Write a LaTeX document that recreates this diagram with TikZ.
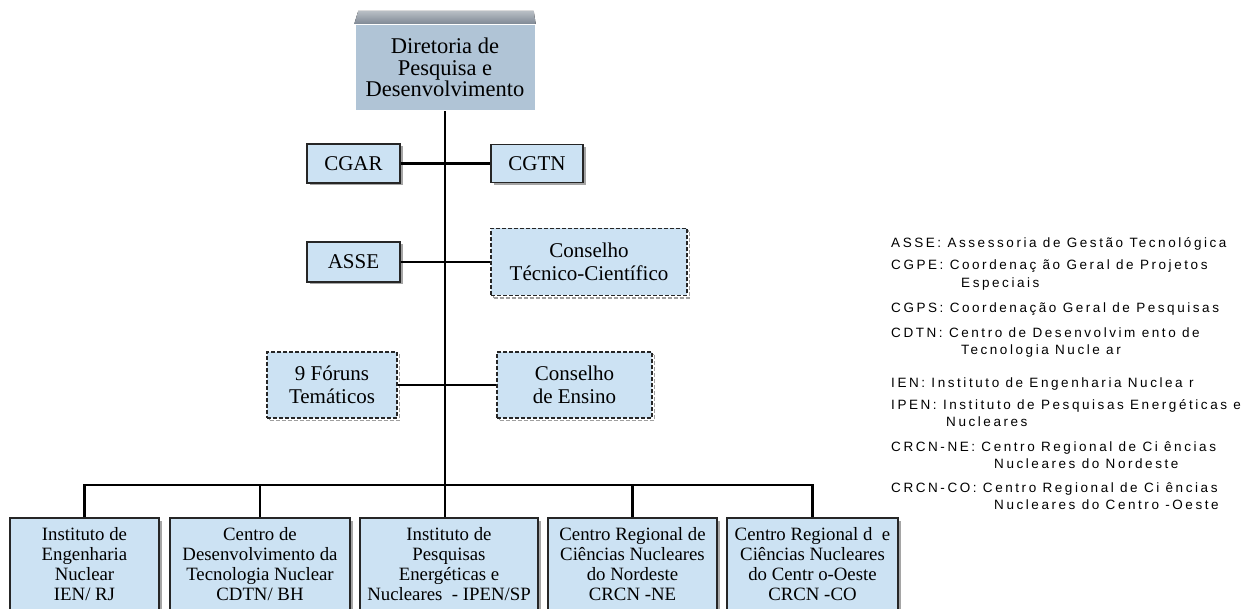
\documentclass[tikz,border=0pt]{standalone}
\usepackage{fontspec}
\setmainfont{Liberation Serif}
\newfontfamily\legendfont[LetterSpace=19]{Liberation Sans}
\usetikzlibrary{shadows, positioning}
\definecolor{boxblue}{RGB}{204,226,243}
\definecolor{dirblue}{RGB}{176,196,214}
\definecolor{bandgrey}{RGB}{128,138,150}

\begin{document}
\begin{tikzpicture}[x=1pt, y=-1pt, line width=2.4pt]
\tikzstyle{box}=[draw=black!85, line width=1.3pt, fill=boxblue, align=center, inner sep=0pt]
\tikzstyle{unit}=[box, drop shadow={shadow xshift=2.5pt, shadow yshift=-2.5pt, fill=black!70}]
\tikzstyle{council}=[box, dash pattern=on 4pt off 2pt, drop shadow={shadow xshift=2.5pt, shadow yshift=-2.5pt, fill=none, draw=black!75, line width=1.6pt}]
\tikzstyle{big}=[font=\fontsize{21}{23}\selectfont]
\tikzstyle{small}=[font=\fontsize{18.8}{20}\selectfont]
\tikzstyle{key}=[anchor=base west, inner sep=0pt, font=\legendfont\fontsize{13.5}{15}\selectfont]

\useasboundingbox (0,0) rectangle (1251,609);

\node[fill=dirblue, align=center, minimum width=179pt, minimum height=85pt, font=\fontsize{22.5}{21.5}\selectfont] (dir) at (445,67.5) {Diretoria de\\Pesquisa e\\Desenvolvimento};
\fill[top color=bandgrey!55, bottom color=bandgrey] (dir.north west) -- ([xshift=4pt, yshift=13pt]dir.north west) -- ([xshift=-2pt, yshift=13pt]dir.north east) -- (dir.north east) -- cycle;

\node[unit, big, minimum width=93pt, minimum height=39pt] (cgar) at (353.5,163.5) {CGAR};
\node[unit, big, minimum width=92pt, minimum height=38pt] (cgtn) at (537,163.5) {CGTN};
\node[unit, big, minimum width=93pt, minimum height=40pt] (asse) at (353.5,262) {ASSE};
\node[council, big, minimum width=196pt, minimum height=67pt] (ctc) at (589,262) {Conselho\\Técnico-Científico};
\node[council, big, minimum width=130pt, minimum height=66pt] (foruns) at (332,385) {9 Fóruns\\Temáticos};
\node[council, big, minimum width=155pt, minimum height=66pt] (ensino) at (574.5,385) {Conselho\\de Ensino};

\node[unit, small, minimum width=149pt, minimum height=92pt] (ien) at (84.5,564) {Instituto de\\Engenharia\\Nuclear\\IEN/ RJ};
\node[unit, small, minimum width=180pt, minimum height=92pt] (cdtn) at (260,564) {Centro de\\Desenvolvimento da\\Tecnologia Nuclear\\CDTN/ BH};
\node[unit, small, minimum width=178pt, minimum height=92pt] (ipen) at (449,564) {Instituto de\\Pesquisas\\Energéticas e\\Nucleares\ \ - IPEN/SP};
\node[unit, small, minimum width=169pt, minimum height=92pt] (crcnne) at (632.5,564) {Centro Regional de\\Ciências Nucleares\\do Nordeste\\CRCN -NE};
\node[unit, small, minimum width=171pt, minimum height=92pt] (crcnco) at (812.5,564) {Centro Regional d\ \ e\\Ciências Nucleares\\do Centr o-Oeste\\CRCN -CO};

\coordinate (bus) at (445,485);

\draw (dir) -- (bus |- ipen.north);
\draw (cgar) -- (cgtn);
\draw (asse) -- (ctc);
\draw (foruns) -- (ensino);
\draw (ien.north) |- (bus) -| (crcnco.north);
\draw (cdtn.north) -- (cdtn.north |- bus);
\draw (crcnne.north) -- (crcnne.north |- bus);

\node[key] (kasse) at (890,248) {ASSE: Assessoria de Gestão Tecnológica};
\node[key] (kcgpe) at (890,270) {CGPE: Coordenaç ão Geral de Projetos};
\node[key] (kcgpe2) at (960,288) {Especiais};
\node[key] (kcgps) at (890,313) {CGPS: Coordenação Geral de Pesquisas};
\node[key] (kcdtn) at (890,338) {CDTN: Centro de Desenvolvim ento de};
\node[key] (kcdtn2) at (960,355) {Tecnologia Nucle ar};
\node[key] (kien) at (890,388) {IEN: Instituto de Engenharia Nuclea r};
\node[key] (kipen) at (890,410) {IPEN: Instituto de Pesquisas Energéticas e};
\node[key] (kipen2) at (945,427) {Nucleares};
\node[key] (kne) at (890,452) {CRCN-NE: Centro Regional de Ci ências};
\node[key] (kne2) at (993,468) {Nucleares do Nordeste};
\node[key] (kco) at (890,493) {CRCN-CO: Centro Regional de Ci ências};
\node[key] (kco2) at (993,509) {Nucleares do Centro -Oeste};
\end{tikzpicture}
\end{document}
